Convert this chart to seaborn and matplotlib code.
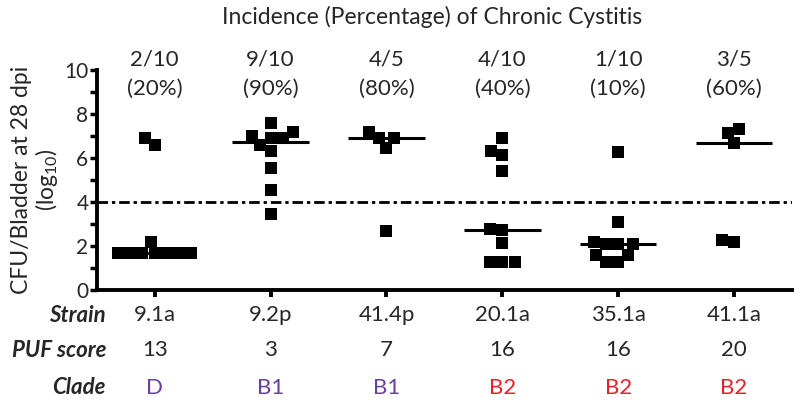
import numpy as np
import pandas as pd
import matplotlib
matplotlib.use("Agg")
import matplotlib.pyplot as plt
import seaborn as sns

strains = ["9.1a", "9.2p", "41.4p", "20.1a", "35.1a", "41.1a"]
puf_scores = ["13", "3", "7", "16", "16", "20"]
clades = ["D", "B1", "B1", "B2", "B2", "B2"]
incidence = ["2/10", "9/10", "4/5", "4/10", "1/10", "3/5"]
percent = ["(20%)", "(90%)", "(80%)", "(40%)", "(10%)", "(60%)"]

# log10 CFU per bladder
cfu_91a = [6.9, 6.6, 2.2, 1.7, 1.7, 1.7, 1.7, 1.7, 1.7, 1.7]
cfu_92p = [7.6, 7.0, 6.9, 6.6, 6.33, 6.9, 7.17, 5.53, 4.55, 3.44]
cfu_414p = [7.17, 6.9, 6.47, 6.9, 2.68]
cfu_201a = [6.9, 6.14, 6.33, 5.41, 2.73, 2.77, 2.12, 1.29, 1.29, 1.29]
cfu_351a = [6.29, 3.1, 2.2, 2.08, 2.08, 2.08, 1.6, 1.6, 1.29, 1.29]
cfu_411a = [7.12, 7.32, 6.67, 2.17, 2.27]
threshold = 4

clade_colors = {"D": "#6b3fa0", "B1": "#6b3fa0", "B2": "#e8202a"}

groups = [cfu_91a, cfu_92p, cfu_414p, cfu_201a, cfu_351a, cfu_411a]
df = pd.concat([pd.DataFrame({"strain": s, "cfu": v}) for s, v in zip(strains, groups)],
               ignore_index=True)

sns.set_style("ticks")
plt.rcParams["font.family"] = ["Lato", "DejaVu Sans"]
plt.rcParams["mathtext.default"] = "regular"

fig = plt.figure(figsize=(8, 4.05), dpi=100)
ax = fig.add_axes([0.121, 0.284, 0.869, 0.543])

sns.swarmplot(data=df, x="strain", y="cfu", order=strains, marker="s", size=8.4,
              color="black", linewidth=0, ax=ax)

# median bars
for i, vals in enumerate(groups):
    ax.hlines(np.median(vals), i - 0.33, i + 0.33, color="black", lw=2.2, zorder=3)

ax.axhline(threshold, color="black", lw=2, linestyle=(0, (3.8, 1.4, 1.2, 1.4)), zorder=1)

ax.set_xlim(-0.5, 5.5)
ax.set_ylim(0, 10)
ax.set_yticks([0, 2, 4, 6, 8, 10])
ax.set_yticks([1, 3, 5, 7, 9], minor=True)
ax.tick_params(axis="y", which="both", length=5, width=2.5, labelsize=15, pad=1, color="black")
ax.tick_params(axis="x", length=5, width=2.8, labelbottom=False, color="black")
for side in ["top", "right"]:
    ax.spines[side].set_visible(False)
for side in ["left", "bottom"]:
    ax.spines[side].set_linewidth(2.8)
    ax.spines[side].set_color("black")
ax.set_xlabel("")
ax.set_ylabel("CFU/Bladder at 28 dpi\n(log$_{10}$)", fontsize=16.5, labelpad=3, linespacing=1.05)

trans = ax.get_xaxis_transform()
for i in range(len(strains)):
    ax.text(i, 1.05, incidence[i], transform=trans, ha="center", va="center", fontsize=16)
    ax.text(i, 0.914, percent[i], transform=trans, ha="center", va="center", fontsize=16)
    ax.text(i, -0.114, strains[i], transform=trans, ha="center", va="center", fontsize=16)
    ax.text(i, -0.273, puf_scores[i], transform=trans, ha="center", va="center", fontsize=16)
    ax.text(i, -0.445, clades[i], transform=trans, ha="center", va="center", fontsize=16,
            color=clade_colors[clades[i]])

for label, y in [("Strain", -0.114), ("PUF score", -0.273), ("Clade", -0.445)]:
    ax.text(-0.42, y, label, transform=trans, ha="right", va="center", fontsize=16,
            style="italic", fontweight="bold")

fig.text(0.54, 0.958, "Incidence (Percentage) of Chronic Cystitis", ha="center", va="center",
         fontsize=16.5)

fig.savefig("out.png", dpi=100)
